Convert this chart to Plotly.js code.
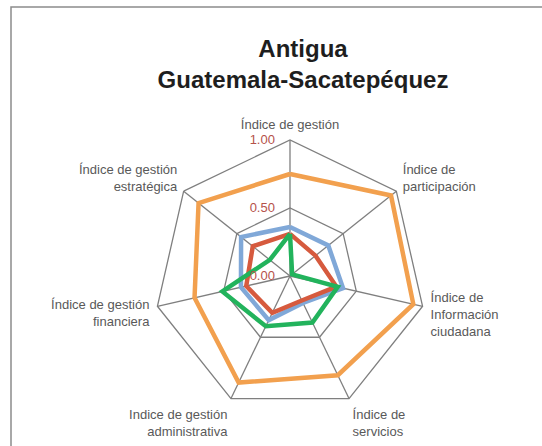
<!DOCTYPE html>
<html>
<head>
<meta charset="utf-8">
<script src="https://cdn.plot.ly/plotly-3.0.1.min.js"></script>
<style>
  html, body { margin: 0; padding: 0; background: #fff; }
  #chart { width: 542px; height: 446px; }
</style>
</head>
<body>
<div id="chart"></div>
<script>
const categories = [
    'Índice de gestión',
    'Índice de<br>participación',
    'Índice de<br>Información<br>ciudadana',
    'Índice de<br>servicios',
    'Indice de gestión<br>administrativa',
    'Índice de gestión<br>financiera',
    'Índice de gestión<br>estratégica',
];

// one series per colour
const orangeValues = [0.75, 0.95, 0.93, 0.81, 0.87, 0.72, 0.86];
const blueValues = [0.36, 0.36, 0.40, 0.22, 0.36, 0.37, 0.46];
const redValues = [0.31, 0.24, 0.35, 0.20, 0.30, 0.33, 0.35];
const greenValues = [0.31, 0.02, 0.36, 0.38, 0.41, 0.51, 0.19];

const radialTicks = [0, 0.5, 1];

function closeLoop(arr) {
    return arr.concat([arr[0]]);
}

function makeTrace(values, color) {
    return {
        type: 'scatterpolar',
        r: closeLoop(values),
        theta: closeLoop(categories),
        mode: 'lines',
        line: {color: color, width: 4.5},
        hoverinfo: 'skip',
        showlegend: false,
    };
}

const data = [
    makeTrace(orangeValues, '#f2a04e'),
    makeTrace(blueValues, '#80a8d8'),
    makeTrace(redValues, '#d65a3e'),
    makeTrace(greenValues, '#22b35c'),
];

const W = 542, H = 446;
const cx = 290, cy = 276, R = 136;

const layout = {
    width: W,
    height: H,
    margin: {l: 0, r: 0, t: 0, b: 0},
    paper_bgcolor: '#fff',
    font: {family: 'Liberation Sans, Arial, sans-serif', color: '#595959', size: 13},
    title: {
        text: '<b>Antigua<br>Guatemala-Sacatepéquez</b>',
        font: {size: 24, color: '#1e1e1e', family: 'Liberation Sans, Arial, sans-serif'},
        x: 303 / W,
        xanchor: 'center',
        xref: 'paper',
        y: 1 - 57 / H,
        yanchor: 'middle',
        yref: 'container',
    },
    polar: {
        domain: {
            x: [(cx - R) / W, (cx + R) / W],
            y: [1 - (cy + R) / H, 1 - (cy - R) / H],
        },
        gridshape: 'linear',
        bgcolor: 'rgba(0,0,0,0)',
        angularaxis: {
            direction: 'clockwise',
            rotation: 90,
            linecolor: '#7f7f7f',
            linewidth: 1.3,
            gridcolor: '#7f7f7f',
            gridwidth: 1.3,
            ticks: 'outside',
            ticklen: 5,
            tickcolor: 'rgba(0,0,0,0)',
            tickfont: {size: 13, color: '#595959'},
        },
        radialaxis: {
            range: [0, 1],
            tickvals: radialTicks,
            tickformat: '.2f',
            angle: 90,
            tickangle: 90,
            side: 'counterclockwise',
            showline: false,
            ticks: 'outside',
            ticklen: 10,
            tickcolor: 'rgba(0,0,0,0)',
            gridcolor: '#7f7f7f',
            gridwidth: 1.3,
            tickfont: {size: 13, color: '#b5524a'},
        },
    },
    shapes: [{
        type: 'rect',
        xref: 'paper', yref: 'paper',
        x0: 11 / W, x1: 1.05,
        y0: -0.05, y1: 1 - 7 / H,
        line: {color: '#8c8c8c', width: 1.5},
        fillcolor: 'rgba(0,0,0,0)',
        layer: 'below',
    }],
};

Plotly.newPlot('chart', data, layout, {displayModeBar: false, staticPlot: true});
</script>
</body>
</html>
